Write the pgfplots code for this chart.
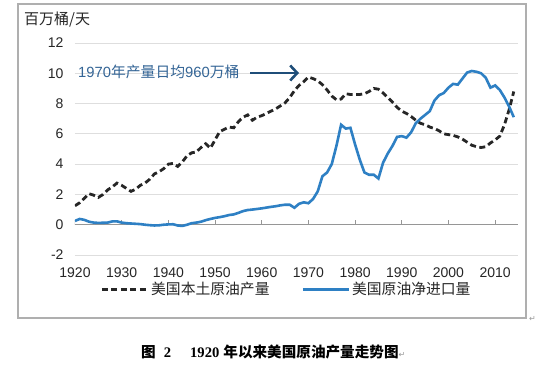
\documentclass[border=0pt]{standalone}
\usepackage{fontspec}
\setmainfont{Liberation Sans}
\newfontfamily\cjk{Noto Sans CJK SC}
\newfontfamily\serifb{Liberation Serif}
\newfontfamily\dejavu{DejaVu Sans}
\usepackage{pgfplots}
\pgfplotsset{compat=1.18}
\usetikzlibrary{arrows.meta}
\definecolor{impblue}{RGB}{46,128,196}
\definecolor{prodblack}{RGB}{38,38,38}
\definecolor{annblue}{RGB}{52,101,150}
\definecolor{arrowblue}{RGB}{31,78,121}
\definecolor{gridgray}{RGB}{222,222,222}
\definecolor{axisgray}{RGB}{150,150,150}
\definecolor{framegray}{RGB}{175,175,175}
\begin{document}
\begin{tikzpicture}[x=1pt,y=1pt]
\useasboundingbox (0,0) rectangle (544,368);
\fill[white] (0,0) rectangle (544,368);
\draw[framegray, line width=1.3pt] (18,50) rectangle (526,364);
\begin{axis}[
  at={(75pt,113pt)}, anchor=south west,
  scale only axis, width=443pt, height=212pt,
  xmin=1920, xmax=2014.9, ymin=-2, ymax=12,
  axis line style={draw=none},
  major tick length=0pt,
  xtick={1920,1930,...,2010},
  ytick={-2,0,...,12},
  ymajorgrids, grid style={gridgray, line width=0.8pt},
  /pgf/number format/assume math mode=true,
  xticklabel={\pgfmathprintnumber[1000 sep={}]{\tick}},
  ticklabel style={font=\fontsize{14}{16}\selectfont, text=black!85},
  xticklabel style={yshift=-9pt},
  yticklabel style={xshift=-8pt},
  legend columns=2,
  legend style={draw=none, fill=none, at={(0.05,-0.162)}, anchor=west,
    font=\fontsize{14.8}{17}\selectfont\cjk, text=black!85,
    /tikz/every even column/.append style={column sep=30pt}},
  legend image code/.code={\draw[#1] (0pt,0pt) -- (46pt,0pt);},
]
\draw[axisgray, line width=1pt] (axis cs:1920,0) -- (axis cs:2014.9,0);
\pgfplotsinvokeforeach{1920,1930,...,2010}{\draw[axisgray, line width=1pt] (axis cs:#1,0) -- ++(0pt,5pt);}
\addplot[prodblack, line width=2.8pt, dash pattern=on 6pt off 3.5pt] coordinates {
(1920,1.25) (1921,1.45) (1922,1.75) (1923,2.05) (1924,1.95) (1925,1.8) (1926,2.0)
(1927,2.3) (1928,2.5) (1929,2.75) (1930,2.6) (1931,2.4) (1932,2.2) (1933,2.35)
(1934,2.6) (1935,2.75) (1936,3.0) (1937,3.35) (1938,3.5) (1939,3.7) (1940,4.0)
(1941,4.05) (1942,3.85) (1943,4.15) (1944,4.55) (1945,4.75) (1946,4.8) (1947,5.1)
(1948,5.35) (1949,5.05) (1950,5.6) (1951,6.15) (1952,6.3) (1953,6.45) (1954,6.4)
(1955,6.8) (1956,7.1) (1957,7.25) (1958,6.9) (1959,7.1) (1960,7.2) (1961,7.35)
(1962,7.5) (1963,7.65) (1964,7.85) (1965,8.05) (1966,8.4) (1967,8.85) (1968,9.2)
(1969,9.45) (1970,9.75) (1971,9.65) (1972,9.5) (1973,9.25) (1974,8.9) (1975,8.5)
(1976,8.25) (1977,8.3) (1978,8.65) (1979,8.6) (1980,8.6) (1981,8.6) (1982,8.65)
(1983,8.8) (1984,9.0) (1985,8.95) (1986,8.7) (1987,8.4) (1988,8.1) (1989,7.75)
(1990,7.5) (1991,7.35) (1992,7.15) (1993,6.9) (1994,6.7) (1995,6.6) (1996,6.45)
(1997,6.35) (1998,6.2) (1999,6.0) (2000,5.95) (2001,5.9) (2002,5.8) (2003,5.65)
(2004,5.45) (2005,5.25) (2006,5.15) (2007,5.1) (2008,5.15) (2009,5.4) (2010,5.6)
(2011,5.85) (2012,6.6) (2013,7.6) (2014,8.8)
};
\addlegendentry{美国本土原油产量}
\addplot[impblue, line width=2.6pt] coordinates {
(1920,0.25) (1921,0.38) (1922,0.32) (1923,0.2) (1924,0.14) (1925,0.12) (1926,0.13)
(1927,0.14) (1928,0.22) (1929,0.22) (1930,0.14) (1931,0.1) (1932,0.08) (1933,0.06)
(1934,0.04) (1935,0.0) (1936,-0.03) (1937,-0.05) (1938,-0.04) (1939,0.0) (1940,0.02)
(1941,0.03) (1942,-0.05) (1943,-0.08) (1944,0.0) (1945,0.1) (1946,0.14) (1947,0.2)
(1948,0.3) (1949,0.38) (1950,0.45) (1951,0.5) (1952,0.56) (1953,0.64) (1954,0.68)
(1955,0.78) (1956,0.9) (1957,0.97) (1958,1.0) (1959,1.04) (1960,1.08) (1961,1.13)
(1962,1.18) (1963,1.22) (1964,1.28) (1965,1.32) (1966,1.32) (1967,1.12) (1968,1.38)
(1969,1.48) (1970,1.42) (1971,1.7) (1972,2.2) (1973,3.2) (1974,3.45) (1975,4.0)
(1976,5.2) (1977,6.6) (1978,6.35) (1979,6.4) (1980,5.3) (1981,4.3) (1982,3.45)
(1983,3.3) (1984,3.3) (1985,3.05) (1986,4.1) (1987,4.7) (1988,5.2) (1989,5.8)
(1990,5.85) (1991,5.75) (1992,6.1) (1993,6.7) (1994,7.0) (1995,7.25) (1996,7.5)
(1997,8.2) (1998,8.55) (1999,8.7) (2000,9.05) (2001,9.3) (2002,9.25) (2003,9.65)
(2004,10.05) (2005,10.15) (2006,10.1) (2007,10.0) (2008,9.7) (2009,9.05) (2010,9.2)
(2011,8.9) (2012,8.4) (2013,7.8) (2014,7.1)
};
\addlegendentry{美国原油净进口量}
\end{axis}
\node[anchor=west, inner sep=0pt, text=black!85] at (24,348) {\fontsize{15}{17}\selectfont\cjk 百万桶/天};
\node[anchor=west, inner sep=0pt, text=annblue] at (78,296) {\fontsize{14.8}{17}\selectfont 1970{\cjk 年产量日均}960{\cjk 万桶}};
\draw[arrowblue, line width=2.6pt, -{Straight Barb[length=7pt, width=15pt, line width=2.6pt]}] (250,295) -- (299,295);
\node[anchor=west, inner sep=0pt] at (141,16) {\fontsize{14.6}{17}\selectfont\bfseries{\cjk 图}\ \ {\serifb 2}\hspace{1.3em}{\serifb 1920}\ {\cjk 年以来美国原油产量走势图}{\mdseries\fontsize{8}{9}\selectfont\dejavu\color{black!40}↵}};
\node[anchor=west, inner sep=0pt, text=black!40] at (529,49) {\fontsize{8}{9}\selectfont\dejavu ↵};
\end{tikzpicture}
\end{document}
